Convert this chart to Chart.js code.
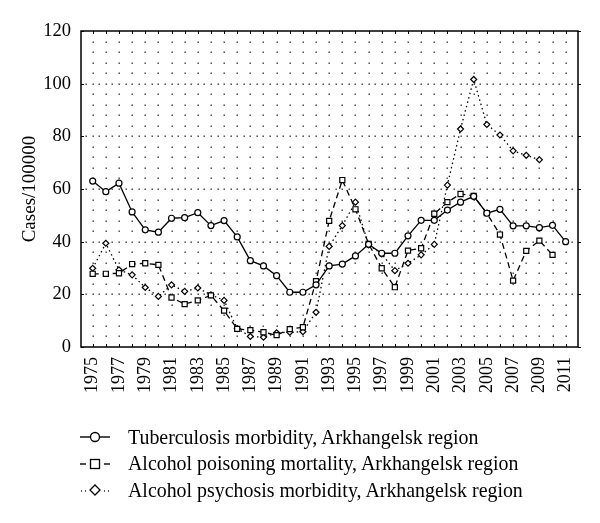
<!DOCTYPE html>
<html>
<head>
<meta charset="utf-8">
<script src="https://cdn.jsdelivr.net/npm/chart.js@4.4.1/dist/chart.umd.min.js"></script>
<style>
  html, body { margin:0; padding:0; background:#fff; }
  #wrap { position:relative; width:600px; height:523px; }
  #legend { position:absolute; left:80px; top:424px; font-family:'Liberation Serif', 'DejaVu Serif', serif; font-size:19.9px; color:#000; }
  #legend .row { display:flex; align-items:center; height:26.5px; white-space:nowrap; }
  #legend svg { margin-right:18px; flex:none; }
</style>
</head>
<body>
<div id="wrap">
  <canvas id="c" width="600" height="523"></canvas>
  <div id="legend"></div>
</div>
<script>
// ---- data ----
const years = [1975,1976,1977,1978,1979,1980,1981,1982,1983,1984,1985,1986,1987,1988,1989,1990,1991,1992,1993,1994,1995,1996,1997,1998,1999,2000,2001,2002,2003,2004,2005,2006,2007,2008,2009,2010,2011];
const tuberculosis = [63,59,62.2,51.3,44.5,43.6,48.9,49.1,51,46.1,48,41.8,32.8,30.8,27.1,20.8,20.8,23.6,30.8,31.5,34.6,39,35.6,35.6,42.2,48.1,48.1,52,55,57.2,50.8,52.3,46,46,45.3,46.2,40];
const poisoning = [27.8,27.8,28,31.5,31.8,31.2,18.8,16.3,17.7,19.6,13.8,6.9,6.4,5.6,4.5,6.8,7.5,25,47.9,63.4,52.3,39.2,29.9,22.7,36.6,37.5,50.6,55,58.1,57.4,50.8,42.7,25.2,36.5,40.4,35,null];
const psychosis = [29.9,39.4,29.3,27.4,22.6,19.2,23.6,21.1,22.4,19.8,17.7,7,4,3.7,5.4,5.6,5.8,13.2,38.2,46.1,55,38.8,35.4,29,31.8,35,39,61.5,82.8,101.6,84.5,80.5,74.5,72.8,71.1,null,null];
const seriesLabels = [
  'Tuberculosis morbidity, Arkhangelsk region',
  'Alcohol poisoning mortality, Arkhangelsk region',
  'Alcohol psychosis morbidity, Arkhangelsk region'
];
const yTicks = [0,20,40,60,80,100,120];
const yTitle = 'Cases/100000';

const toPts = arr => years.map((yr,i) => ({x: yr, y: arr[i]}));
const FONT = "'Liberation Serif', 'DejaVu Serif', serif";

const dotGrid = {
  id: 'dotGrid',
  beforeDatasetsDraw(chart) {
    const {ctx, chartArea: a, scales: {x, y}} = chart;
    ctx.save();
    ctx.fillStyle = '#333';
    for (const yr of years) {
      const px = Math.round(x.getPixelForValue(yr));
      for (let v = 4; v < 120; v += 4) {
        const py = Math.round(y.getPixelForValue(v));
        ctx.fillRect(px - 0.5, py - 0.5, 1.4, 1.4);
      }
    }
    for (let v = 20; v < 120; v += 20) {
      const py = Math.round(y.getPixelForValue(v));
      for (let yr = years[0] - 0.5; yr <= years[years.length-1] + 0.5; yr += 1) {
        const px = Math.round(x.getPixelForValue(yr));
        if (px > a.left + 2 && px < a.right - 2) ctx.fillRect(px - 0.5, py - 0.5, 1.4, 1.4);
      }
    }
    ctx.strokeStyle = '#000';
    ctx.lineWidth = 1;
    ctx.beginPath();
    for (const yr of years) {
      const px = Math.round(x.getPixelForValue(yr)) + 0.5;
      ctx.moveTo(px, a.bottom); ctx.lineTo(px, a.bottom - 3);
      ctx.moveTo(px, a.top); ctx.lineTo(px, a.top + 3);
    }
    for (const v of yTicks) {
      const py = Math.round(y.getPixelForValue(v)) + 0.5;
      ctx.moveTo(a.left, py); ctx.lineTo(a.left + 3, py);
      ctx.moveTo(a.right, py); ctx.lineTo(a.right + 3, py);
    }
    ctx.stroke();
    ctx.lineWidth = 1.5;
    ctx.strokeRect(a.left, a.top, a.width, a.height);
    ctx.restore();
  }
};

const common = { borderColor: '#000', pointBorderColor: '#000', pointBackgroundColor: '#fff', borderWidth: 1.3, pointBorderWidth: 1.2, spanGaps: false, fill: false, tension: 0 };

new Chart(document.getElementById('c'), {
  type: 'line',
  data: {
    datasets: [
      Object.assign({}, common, { label: seriesLabels[0], data: toPts(tuberculosis), pointStyle: 'circle', pointRadius: 3 }),
      Object.assign({}, common, { label: seriesLabels[1], data: toPts(poisoning), pointStyle: 'rect', pointRadius: 3.6, borderDash: [6, 4] }),
      Object.assign({}, common, { label: seriesLabels[2], data: toPts(psychosis), pointStyle: 'rectRot', pointRadius: 3, borderDash: [1.5, 3] })
    ]
  },
  options: {
    responsive: false,
    animation: false,
    layout: { padding: { left: 0, right: 22, top: 31, bottom: 116 } },
    plugins: { legend: { display: false }, tooltip: { enabled: false } },
    scales: {
      x: {
        type: 'linear',
        min: 1974.11,
        max: 2011.94,
        afterBuildTicks: s => { s.ticks = years.map(v => ({ value: v })); },
        afterFit: s => { s.height = 60; },
        grid: { display: false, drawTicks: false },
        border: { display: false },
        ticks: {
          autoSkip: false,
          minRotation: 90, maxRotation: 90,
          padding: 10,
          color: '#000',
          font: { family: FONT, size: 18 },
          callback: v => ((v - years[0]) % 2 === 0 ? String(v) : '')
        }
      },
      y: {
        min: 0, max: 120,
        afterBuildTicks: s => { s.ticks = yTicks.map(v => ({ value: v })); },
        afterFit: s => { s.width = 81; },
        grid: { display: false, drawTicks: false },
        border: { display: false },
        ticks: { padding: 10, color: '#000', font: { family: FONT, size: 18.5 } },
        title: { display: true, text: yTitle, color: '#000', font: { family: FONT, size: 19 }, padding: { top: 19, bottom: 0 } }
      }
    }
  },
  plugins: [dotGrid]
});

const icons = [
  '<svg width="30" height="14"><line x1="0" y1="7" x2="30" y2="7" stroke="#000" stroke-width="1.4"/><circle cx="15" cy="7" r="4.5" fill="#fff" stroke="#000" stroke-width="1.3"/></svg>',
  '<svg width="30" height="14"><line x1="0" y1="7" x2="6" y2="7" stroke="#000" stroke-width="1.4"/><line x1="24" y1="7" x2="30" y2="7" stroke="#000" stroke-width="1.4"/><rect x="10.5" y="2.5" width="9" height="9" fill="#fff" stroke="#000" stroke-width="1.3"/></svg>',
  '<svg width="30" height="14"><circle cx="1.5" cy="8" r="0.7" fill="#000"/><circle cx="5.5" cy="8" r="0.7" fill="#000"/><circle cx="24.5" cy="8" r="0.7" fill="#000"/><circle cx="28.5" cy="8" r="0.7" fill="#000"/><polygon points="15,2 20,7 15,12 10,7" fill="#fff" stroke="#000" stroke-width="1.3"/></svg>'
];
document.getElementById('legend').innerHTML = seriesLabels.map((t, i) =>
  '<div class="row">' + icons[i] + '<span>' + t + '</span></div>').join('');
</script>
</body>
</html>
